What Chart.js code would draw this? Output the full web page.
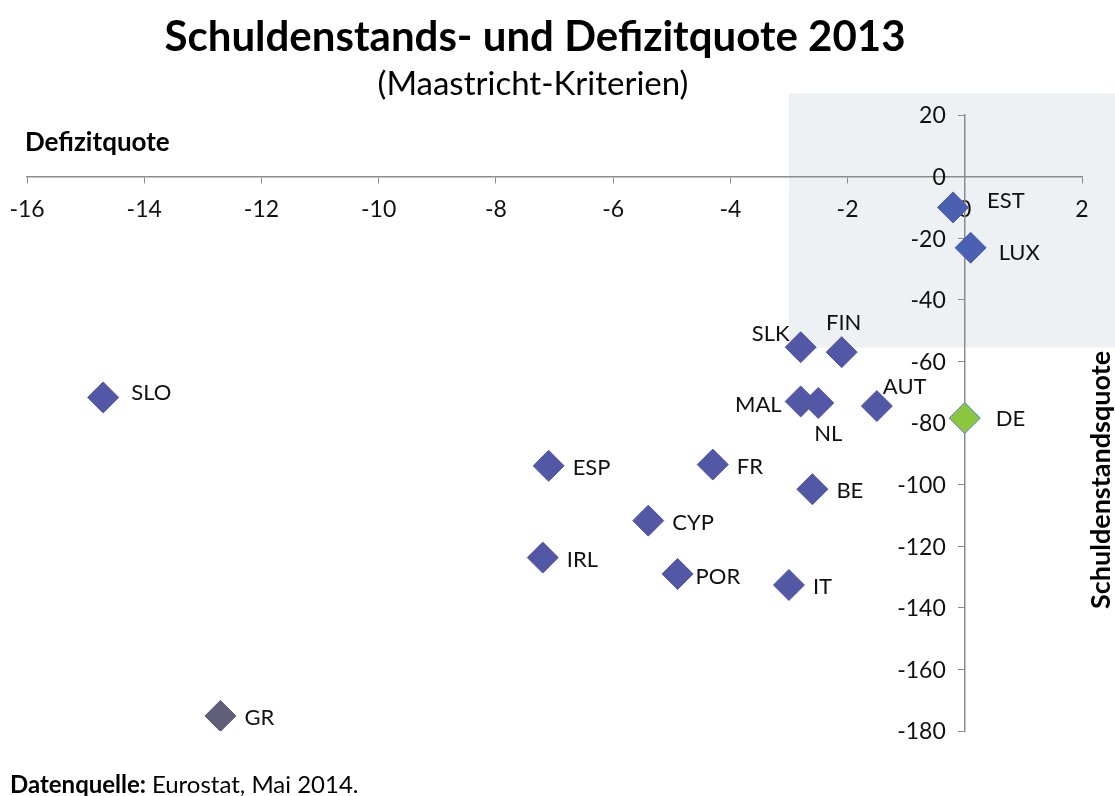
<!DOCTYPE html>
<html>
<head>
<meta charset="utf-8">
<script src="https://cdn.jsdelivr.net/npm/chart.js@4.4.1/dist/chart.umd.min.js"></script>
<style>
  body { margin: 0; background: #fff; }
  #wrap { width: 1115px; height: 796px; }
</style>
</head>
<body>
<div id="wrap"><canvas id="myChart" width="1115" height="796"></canvas></div>
<script>
// Eurostat, Mai 2014
const countries = ['EST', 'LUX', 'SLK', 'FIN', 'MAL', 'NL', 'AUT', 'DE', 'SLO',
    'ESP', 'FR', 'BE', 'CYP', 'IRL', 'POR', 'IT', 'GR'];
const deficitRatio = [-0.2, 0.1, -2.8, -2.1, -2.8, -2.5, -1.5, 0.0, -14.7,
    -7.1, -4.3, -2.6, -5.4, -7.2, -4.9, -3.0, -12.7];
const debtRatio = [-10.0, -23.1, -55.4, -57.0, -73.0, -73.5, -74.5, -78.4, -71.7,
    -93.9, -93.5, -101.5, -111.7, -123.7, -129.0, -132.6, -175.1];

// shaded "Maastricht" zone
const zoneDeficit = -3;
const zoneDebt = -55.5;
const zoneTop = 27;

const FONT = 'Lato, "Open Sans", sans-serif';

// where each country label sits relative to its marker: [dx, dy, align]
const labelPlacement = {
    EST: [34, -6, 'left'],
    LUX: [28, 5, 'left'],
    SLK: [-11, -13, 'right'],
    FIN: [2, -29, 'center'],
    MAL: [-19, 3, 'right'],
    NL: [10, 31, 'center'],
    AUT: [6, -19, 'left'],
    DE: [31, 1, 'left'],
    SLO: [28, -5, 'left'],
    POR: [18, 3, 'left'],
};

function markerColor(c) {
    if (c === 'DE') return '#8cc63f';
    if (c === 'GR') return '#5f5f78';
    if (c === 'EST' || c === 'LUX') return '#4b60b0';
    return '#5257a6';
}

const zonePlugin = {
    id: 'zone',
    beforeDraw(chart) {
        const ctx = chart.ctx;
        const x = chart.scales.x, y = chart.scales.y;
        ctx.save();
        ctx.fillStyle = '#fff';
        ctx.fillRect(0, 0, chart.width, chart.height);
        const left = x.getPixelForValue(zoneDeficit);
        const top = y.getPixelForValue(zoneTop);
        const bottom = y.getPixelForValue(zoneDebt);
        ctx.fillStyle = '#edf1f4';
        ctx.fillRect(left, top, chart.width - left, bottom - top);
        ctx.restore();
    }
};

const labelPlugin = {
    id: 'countryLabels',
    afterDatasetsDraw(chart) {
        const ctx = chart.ctx;
        const pts = chart.getDatasetMeta(0).data;
        ctx.save();
        ctx.font = '22px ' + FONT;
        ctx.fillStyle = '#111';
        ctx.textBaseline = 'middle';
        pts.forEach((p, i) => {
            const pl = labelPlacement[countries[i]] || [24, 2, 'left'];
            ctx.textAlign = pl[2];
            ctx.fillText(countries[i], p.x + pl[0], p.y + pl[1]);
        });

        // y tick labels, set a bit away from the centred axis
        const y = chart.scales.y;
        const axisX = chart.scales.x.getPixelForValue(0);
        ctx.font = '23px ' + FONT;
        ctx.textAlign = 'right';
        y.ticks.forEach(t => {
            ctx.fillText(String(t.value), axisX - 19, y.getPixelForValue(t.value) + 1);
        });
        ctx.restore();
    }
};

const textPlugin = {
    id: 'texts',
    afterDraw(chart) {
        const ctx = chart.ctx;
        ctx.save();
        ctx.fillStyle = '#000';
        ctx.textBaseline = 'alphabetic';
        ctx.textAlign = 'center';
        ctx.font = 'bold 42px ' + FONT;
        ctx.fillText('Schuldenstands- und Defizitquote 2013', 535, 51);
        ctx.font = '33px ' + FONT;
        ctx.fillText('(Maastricht-Kriterien)', 533, 95);

        ctx.textAlign = 'left';
        ctx.font = 'bold 26px ' + FONT;
        ctx.fillText('Defizitquote', 25, 151);

        ctx.font = 'bold 24px ' + FONT;
        ctx.fillText('Datenquelle:', 10, 793);
        const w = ctx.measureText('Datenquelle: ').width;
        ctx.font = '24px ' + FONT;
        ctx.fillText('Eurostat, Mai 2014.', 10 + w, 793);

        ctx.translate(1110, 480);
        ctx.rotate(-Math.PI / 2);
        ctx.textAlign = 'center';
        ctx.font = 'bold 27px ' + FONT;
        ctx.fillText('Schuldenstandsquote', 0, 0);
        ctx.restore();
    }
};

const data = {
    datasets: [{
        label: 'Schuldenstands- und Defizitquote',
        data: countries.map((c, i) => ({ x: deficitRatio[i], y: debtRatio[i] })),
        pointStyle: 'rectRot',
        pointRadius: 15.5,
        pointHoverRadius: 15.5,
        pointBackgroundColor: countries.map(markerColor),
        pointBorderColor: countries.map(c => c === 'DE' ? '#4f81bd' : markerColor(c)),
        pointBorderWidth: 1
    }]
};

const config = {
    type: 'scatter',
    data: data,
    options: {
        responsive: false,
        animation: false,
        layout: {
            padding: { left: 27, right: 33, top: 115, bottom: 65 }
        },
        scales: {
            x: {
                type: 'linear',
                position: { y: 0 },
                min: -16,
                max: 2,
                z: 1,
                afterFit(scale) {
                    scale.paddingLeft = 0;
                    scale.paddingRight = 0;
                },
                ticks: {
                    stepSize: 2,
                    color: '#111',
                    padding: 13,
                    font: { family: FONT, size: 23 }
                },
                grid: {
                    drawOnChartArea: false,
                    tickLength: 6,
                    color: '#8c8c8c'
                },
                border: { color: '#8c8c8c', width: 1.5 }
            },
            y: {
                type: 'linear',
                position: { x: 0 },
                min: -180,
                max: 20,
                ticks: {
                    stepSize: 20,
                    display: false
                },
                grid: {
                    drawOnChartArea: false,
                    tickLength: 6,
                    color: '#8c8c8c'
                },
                border: { color: '#8c8c8c', width: 1.5 }
            }
        },
        plugins: {
            legend: { display: false },
            tooltip: { enabled: false }
        }
    },
    plugins: [zonePlugin, labelPlugin, textPlugin]
};

const context = document.getElementById('myChart').getContext('2d');

const myChart = new Chart(
    context,
    config
);
</script>
</body>
</html>
